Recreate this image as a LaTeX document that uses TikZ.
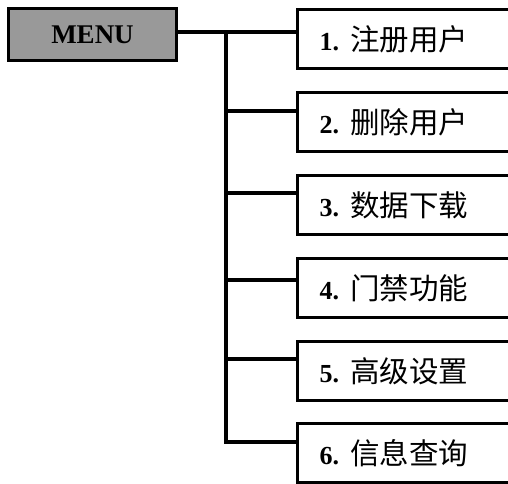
\documentclass[tikz,border=0pt]{standalone}
\usepackage{fontspec}
\setmainfont{Liberation Serif}
\newfontfamily\cjk{Noto Sans CJK SC}
\definecolor{menugray}{RGB}{153,153,153}
\tikzset{
  menubox/.style={draw, line width=3.2pt, fill=menugray, minimum width=168pt, minimum height=52pt, inner sep=0pt, font=\fontsize{27}{27}\selectfont\bfseries},
  itembox/.style={draw, line width=3pt, fill=white, anchor=north west, minimum height=59pt, text width=200pt, inner xsep=22pt, inner ysep=0pt, align=left},
  conn/.style={line width=4.5pt}
}
\newcommand{\itemtext}[2]{{\fontsize{26}{26}\selectfont\bfseries #1.}\hspace{11pt}{\cjk\fontsize{29.5}{29.5}\selectfont #2}}
\begin{document}
\begin{tikzpicture}[x=1pt,y=-1pt]
\useasboundingbox (0,0) rectangle (508,483);
\clip (0,0) rectangle (508,483);
\node[menubox] (menu) at (92.5,34.5) {MENU};
\node[itembox] (b1) at (296,8) {\itemtext{1}{注册用户}};
\node[itembox] (b2) at (296,91) {\itemtext{2}{删除用户}};
\node[itembox] (b3) at (296,174) {\itemtext{3}{数据下载}};
\node[itembox] (b4) at (296,257) {\itemtext{4}{门禁功能}};
\node[itembox] (b5) at (296,340) {\itemtext{5}{高级设置}};
\node[itembox] (b6) at (296,422) {\itemtext{6}{信息查询}};
\coordinate (j1) at (226,32);
\coordinate (j2) at (226,111);
\coordinate (j3) at (226,193);
\coordinate (j4) at (226,280);
\coordinate (j5) at (226,359);
\coordinate (j6) at (226,442);
\draw[conn] (menu.east |- j1) -- (b1.west |- j1);
\draw[conn, line join=miter] (j1) -- (j6) -- (b6.west |- j6);
\draw[conn] (j2) -- (b2.west |- j2);
\draw[conn] (j3) -- (b3.west |- j3);
\draw[conn] (j4) -- (b4.west |- j4);
\draw[conn] (j5) -- (b5.west |- j5);
\end{tikzpicture}
\end{document}
